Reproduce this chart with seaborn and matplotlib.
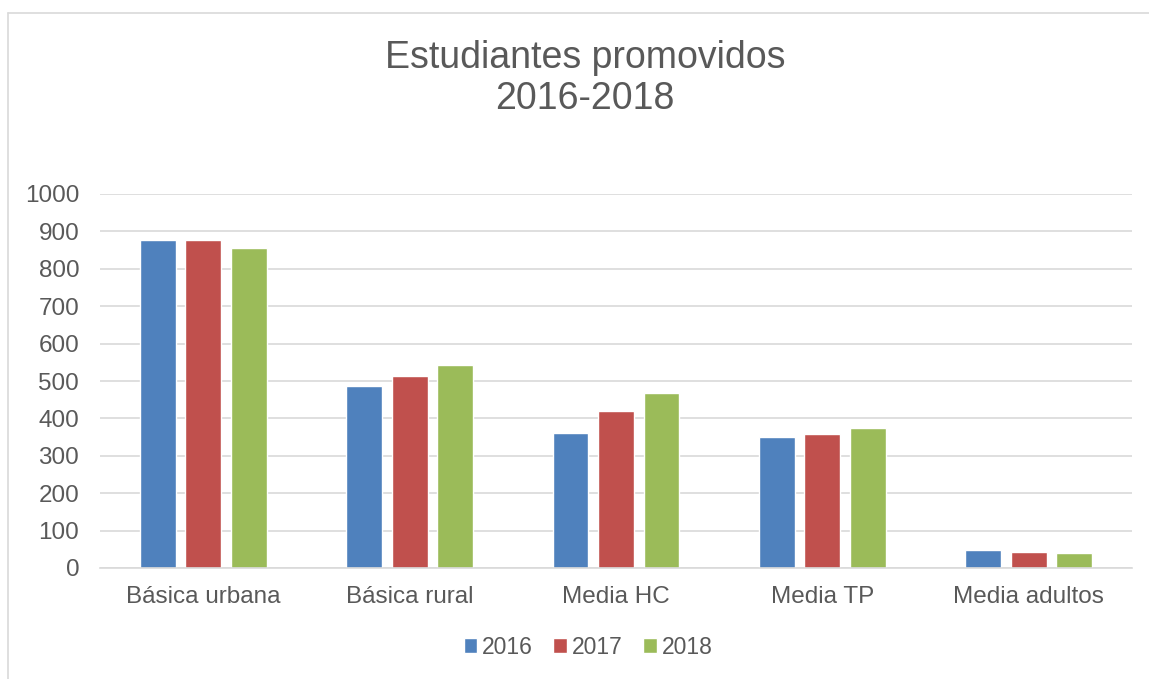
import pandas as pd
import matplotlib.pyplot as plt
import seaborn as sns
from matplotlib.lines import Line2D
from matplotlib.patches import Patch

categories = ['Básica urbana', 'Básica rural', 'Media HC', 'Media TP', 'Media adultos']
years = ['2016', '2017', '2018']
v2016 = [877, 487, 360, 349, 48]
v2017 = [877, 514, 420, 358, 43]
v2018 = [856, 542, 467, 374, 40]
colors = ['#4F81BD', '#C0504D', '#9BBB59']
text_color = '#595959'

df = pd.DataFrame({'Nivel': categories, '2016': v2016, '2017': v2017, '2018': v2018})
df = df.melt(id_vars='Nivel', var_name='Año', value_name='Estudiantes')

sns.set_style('white')
plt.rcParams['font.family'] = ['Liberation Sans', 'DejaVu Sans']

fig = plt.figure(figsize=(11.49, 6.79), dpi=100)
ax = fig.add_axes([100 / 1149, 1 - 568 / 679, 1032 / 1149, 374 / 679])

sns.barplot(data=df, x='Nivel', y='Estudiantes', hue='Año', palette=colors,
            width=0.661, gap=0.21, ax=ax, legend=False, saturation=1)

ax.set_ylim(0, 1000)
ax.set_xlim(-0.5, 4.5)
ax.set_yticks(range(0, 1001, 100))
ax.yaxis.grid(True, color='#D9D9D9', linewidth=1.2)
ax.set_axisbelow(True)
for s in ['top', 'right', 'left']:
    ax.spines[s].set_visible(False)
ax.spines['bottom'].set_color('#D9D9D9')
ax.spines['bottom'].set_linewidth(1.2)
ax.tick_params(axis='both', length=0, labelsize=17.5, colors=text_color)
ax.tick_params(axis='x', pad=13)
ax.tick_params(axis='y', pad=15)
ax.set_xlabel('')
ax.set_ylabel('')

fig.text(585 / 1149, 1 - 58 / 679, 'Estudiantes promovidos', ha='center', va='center',
         fontsize=27, color=text_color)
fig.text(585 / 1149, 1 - 99 / 679, '2016-2018', ha='center', va='center',
         fontsize=27, color=text_color)

handles = [Patch(facecolor=c, label=y) for c, y in zip(colors, years)]
fig.legend(handles=handles, loc='center', bbox_to_anchor=(588 / 1149, 1 - 647 / 679),
           ncol=3, frameon=False, fontsize=16.5, handlelength=0.6, handleheight=0.6,
           handletextpad=0.2, columnspacing=0.9, labelcolor=text_color)

fig.add_artist(Line2D([8 / 1149, 8 / 1149], [0, 1 - 13 / 679], color='#D9D9D9', linewidth=1.2))
fig.add_artist(Line2D([8 / 1149, 1], [1 - 13 / 679, 1 - 13 / 679], color='#D9D9D9', linewidth=1.2))

fig.savefig('out.png', dpi=100)
